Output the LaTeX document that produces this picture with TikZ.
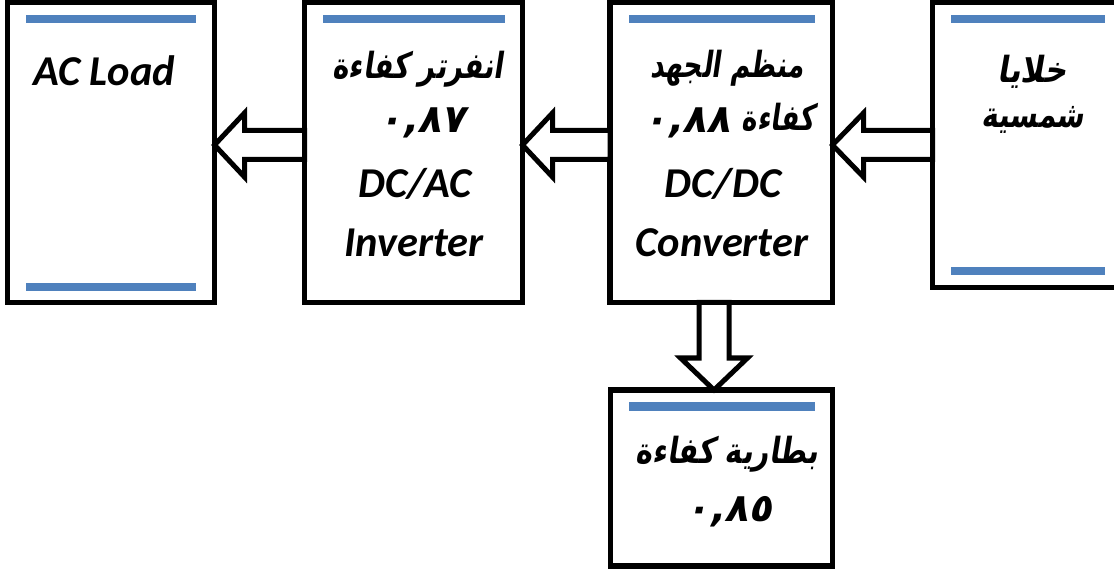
\documentclass[tikz,border=0pt]{standalone}
\usepackage{fontspec}
\usepackage{graphicx}
\setmainfont{Carlito}
\newfontfamily\arabicfont[Script=Arabic,FakeSlant=0.2]{DejaVu Sans}
\TeXXeTstate=1
\usetikzlibrary{calc}
\definecolor{barblue}{RGB}{79,129,189}
\begin{document}
\begin{tikzpicture}[x=1pt,y=-1pt,
  box/.style={draw,line width=5.5pt,inner sep=0pt,outer sep=0pt,anchor=north west},
  bar/.style={fill=barblue},
  blockarrow/.style={draw,line width=5pt,fill=white,line join=miter},
  lat/.style={font=\fontsize{42.5}{50}\selectfont\bfseries\itshape,inner sep=0pt,anchor=base},
  ar/.style={font=\fontsize{30}{36}\selectfont\arabicfont\bfseries,inner sep=0pt,anchor=base}]
\useasboundingbox (0,0) rectangle (1114,569);
% boxes
\node[box,minimum width=207pt,minimum height=300pt] (load) at (7.5,2.5) {};
\node[box,minimum width=218pt,minimum height=300pt] (inv) at (304.5,2.5) {};
\node[box,minimum width=222.5pt,minimum height=300pt] (conv) at (610,2.5) {};
\node[box,minimum width=200pt,minimum height=285pt] (solar) at (932.5,2.5) {};
\node[box,minimum width=222pt,minimum height=176pt] (batt) at (610.5,390) {};
% blue bars
\fill[bar] (26,15) rectangle (196,23);
\fill[bar] (26,283) rectangle (196,291);
\fill[bar] (323,15) rectangle (505,23);
\fill[bar] (629,15) rectangle (815,23);
\fill[bar] (951,15) rectangle (1105,23);
\fill[bar] (951,267) rectangle (1105,275);
\fill[bar] (629,402) rectangle (815,411);
% arrows
\coordinate (ay) at (0,145);
\coordinate (tA) at (load.east |- ay);
\coordinate (sA) at (inv.west |- ay);
\draw[blockarrow] (tA) -- ($(tA)+(30,-32)$) -- ($(tA)+(30,-14.5)$) -- ($(sA)+(0,-14.5)$)
  -- ($(sA)+(0,14.5)$) -- ($(tA)+(30,14.5)$) -- ($(tA)+(30,32)$) -- cycle;
\coordinate (tB) at (inv.east |- ay);
\coordinate (sB) at (conv.west |- ay);
\draw[blockarrow] (tB) -- ($(tB)+(30,-32)$) -- ($(tB)+(30,-14.5)$) -- ($(sB)+(0,-14.5)$)
  -- ($(sB)+(0,14.5)$) -- ($(tB)+(30,14.5)$) -- ($(tB)+(30,32)$) -- cycle;
\coordinate (tC) at (conv.east |- ay);
\coordinate (sC) at (solar.west |- ay);
\draw[blockarrow] (tC) -- ($(tC)+(31,-32)$) -- ($(tC)+(31,-14.5)$) -- ($(sC)+(0,-14.5)$)
  -- ($(sC)+(0,14.5)$) -- ($(tC)+(31,14.5)$) -- ($(tC)+(31,32)$) -- cycle;
\coordinate (tD) at ($(batt.north west)+(103.5,0)$);
\coordinate (sD) at ($(conv.south west)+(104,0)$);
\draw[blockarrow] (tD) -- ($(tD)+(-33.5,-32)$) -- ($(tD)+(-15,-32)$) -- ($(sD)+(-15,0)$)
  -- ($(sD)+(15,0)$) -- ($(tD)+(15,-32)$) -- ($(tD)+(33.5,-32)$) -- cycle;
% texts
\node[lat] (tload) at (104,86) {AC Load};
\node[ar] (tinv1) at (418,79) {\scalebox{0.92}[1.2]{\beginR انفرتر كفاءة\endR}};
\node[ar] (tinv2) at (422,133) {\scalebox{1.3}[1.3]{٠,٨٧}};
\node[lat] (tinv3) at (415,198) {DC/AC};
\node[lat] (tinv4) at (414,257) {Inverter};
\node[ar] (tconv1) at (727,78) {\scalebox{0.88}[1.2]{\beginR منظم الجهد\endR}};
\node[ar] (tconv2) at (778,131) {\scalebox{0.87}[1.2]{كفاءة}};
\node[ar] (tconv2n) at (687,133) {\scalebox{1.3}[1.3]{٠,٨٨}};
\node[lat] (tconv3) at (723,198) {DC/DC};
\node[lat] (tconv4) at (722,257) {Converter};
\node[ar] (tsol1) at (1032,83) {\scalebox{1.03}[1.2]{خلايا}};
\node[ar] (tsol2) at (1033,128) {\scalebox{0.93}[1.2]{شمسية}};
\node[ar] (tbat1) at (727,463) {\scalebox{0.95}[1.2]{\beginR بطارية كفاءة\endR}};
\node[ar] (tbat2) at (729,521) {\scalebox{1.3}[1.3]{٠,٨٥}};
\end{tikzpicture}
\end{document}
